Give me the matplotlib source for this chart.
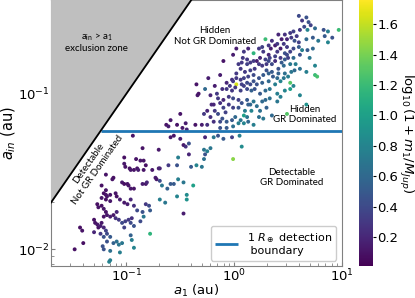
import numpy as np
import matplotlib
matplotlib.use("Agg")
import matplotlib.pyplot as plt

# values (log10 of a_1 and a_in in au, colour value)
log_a1 = [
    -0.94, -0.59, -0.56, -0.50, -0.47, -0.45, -0.42, -0.85, -0.70, -0.52, -0.42, -0.35, -0.40,
    -1.02, -0.91, -0.87, -0.84, -0.82, -0.90, -1.02, -1.01, -0.97, -0.96, -0.93, -0.89, -0.84,
    -0.76, -0.70, -0.69, -0.61, -0.53, -1.12, -1.19, -1.13, -1.04, -1.02, -0.99, -0.98, -0.96,
    -0.93, -0.85, -0.82, -0.81, -0.73, -0.72, -0.69, -0.67, -0.62, -0.59, -0.56, -0.52, -0.47,
    -0.38, -1.23, -1.19, -1.21, -1.19, -1.23, -1.19, -1.18, -1.15, -1.15, -1.10, -1.09, -1.06,
    -1.02, -0.99, -0.96, -0.93, -0.90, -0.85, -0.84, -0.87, -0.82, -0.79, -0.78, -0.69, -0.64,
    -0.53, -0.44, -0.44, -0.47, -1.27, -1.26, -1.23, -1.21, -1.19, -1.21, -1.18, -1.15, -1.12,
    -1.09, -1.10, -1.07, -1.04, -1.01, -0.98, -0.95, -0.96, -0.93, -1.02, -1.30, -1.29, -1.27,
    -1.26, -1.24, -1.23, -1.21, -1.19, -1.18, -1.43, -1.41, -1.30, -1.24, -1.21, -1.18, -1.15,
    -1.12, -1.09, -1.07, -1.04, -1.06, -1.15, -1.22, -1.21, -0.96, -0.95, -0.93, -0.78, -1.16,
    -1.15, -1.40, -1.48,
    -0.35, -0.33, -0.34, -0.50, -0.59, -0.63, -0.61, -0.53, -0.48, -0.45, -0.44, -0.36,
    -0.27, -0.19, -0.15, -0.10, -0.02, 0.05, 0.07, -0.01, -0.28, -0.25, -0.22, -0.27, -0.28, -0.30,
    0.60, 0.67, 0.63, 0.69, 0.71, 0.65, 0.61, 0.68, 0.75, 0.83, 0.87, 0.97,
    0.44, 0.49, 0.29, 0.53, 0.58, 0.56, 0.60, 0.73, 0.78, 0.84, 0.87, 0.91, 0.67,
    0.38, 0.43, 0.46, 0.49, 0.55, 0.60, 0.63, 0.68, 0.73, 0.61, 0.52, 0.47, 0.40, 0.34, 0.32,
    0.27, 0.18, 0.24, 0.21, 0.15, 0.12, 0.08, 0.04, -0.01,
    0.29, 0.33, 0.38, 0.43, 0.47, 0.50, 0.55, 0.57, 0.52, 0.46, 0.41, 0.35, 0.30, 0.26, 0.19,
    0.15, 0.10, 0.06, 0.02, 0.67, 0.75, 0.75, 0.77, 0.70, 0.61, 0.56,
    -0.13, -0.24, -0.18, -0.07, -0.02, 0.02, 0.06, 0.09, 0.13, 0.18, 0.23, 0.27, 0.32, 0.36,
    0.41, 0.46, 0.50, 0.52, 0.43, 0.38, 0.32, 0.26, 0.21, 0.02,
    -0.27, -0.22, -0.16, -0.07, -0.02, 0.01, 0.06, 0.09, 0.12, 0.15, 0.16, 0.19, 0.24, 0.29,
    0.33, 0.40, 0.43, 0.47, 0.52, 0.55, 0.61, 0.67,
    -0.19, -0.13, -0.10, -0.05, -0.01, 0.04, 0.07, 0.12, 0.15, 0.18, 0.21, 0.26, 0.10, 0.09,
    0.16, 0.24, 0.30, 0.35, -0.01, -0.05,
    -0.28, -0.25, -0.30, -0.25, -0.19, -0.15, -0.11, -0.08, -0.07, -0.02, 0.01, 0.04, 0.06,
    0.09, 0.13, 0.18, -0.01, -0.07, -0.13, 0.49, -0.10,
    0.02, 0.09, 0.13, 0.23, 0.26, 0.32, 0.35, 0.40, 0.41, 0.47, 0.52, 0.55, 0.49, 0.44, 0.38,
    0.32, 0.23, 0.18, 0.12, 0.07, 0.30, 0.35, 0.40, 0.47, 0.53, 0.18, 0.12, 0.07, -0.01, -0.04,
    -0.11, -0.15, -0.10, -0.18, -0.22, -0.21, 0.04, 0.13, 0.29, 0.33, 0.40, 0.27, 0.23, 0.12,
    -0.13,
]
log_ain = [
    -1.27, -1.28, -1.27, -1.29, -1.33, -1.34, -1.32, -1.35, -1.36, -1.41, -1.39, -1.46, -1.47,
    -1.41, -1.42, -1.43, -1.43, -1.46, -1.48, -1.45, -1.47, -1.48, -1.49, -1.49, -1.49, -1.49,
    -1.49, -1.48, -1.48, -1.46, -1.46, -1.54, -1.52, -1.55, -1.57, -1.58, -1.58, -1.59, -1.61,
    -1.61, -1.58, -1.58, -1.57, -1.54, -1.55, -1.56, -1.59, -1.61, -1.58, -1.58, -1.55, -1.57,
    -1.59, -1.59, -1.62, -1.64, -1.65, -1.67, -1.68, -1.66, -1.65, -1.69, -1.64, -1.66, -1.68,
    -1.70, -1.71, -1.68, -1.72, -1.75, -1.76, -1.79, -1.82, -1.71, -1.72, -1.75, -1.68, -1.70,
    -1.66, -1.65, -1.68, -1.77, -1.71, -1.73, -1.72, -1.74, -1.76, -1.79, -1.78, -1.79, -1.78,
    -1.76, -1.80, -1.81, -1.83, -1.82, -1.81, -1.80, -1.83, -1.85, -1.86, -1.81, -1.83, -1.84,
    -1.86, -1.85, -1.83, -1.86, -1.88, -1.90, -1.86, -1.88, -1.89, -1.90, -1.92, -1.95, -1.92,
    -1.96, -1.95, -1.97, -1.96, -2.02, -2.01, -1.98, -2.00, -1.91, -1.94, -1.99, -1.90, -2.08,
    -2.07, -1.96, -2.00,
    -0.94, -1.00, -1.01, -1.13, -1.17, -1.20, -1.21, -1.20, -1.22, -1.19, -1.23, -1.20,
    -1.28, -1.28, -1.27, -1.29, -1.28, -1.27, -1.34, -1.42, -1.36, -1.37, -1.35, -1.39, -1.42, -1.47,
    -0.50, -0.51, -0.53, -0.54, -0.56, -0.57, -0.59, -0.59, -0.58, -0.59, -0.60, -0.59,
    -0.65, -0.65, -0.65, -0.64, -0.63, -0.66, -0.67, -0.64, -0.66, -0.63, -0.67, -0.64, -0.65,
    -0.69, -0.71, -0.68, -0.70, -0.71, -0.70, -0.72, -0.72, -0.71, -0.75, -0.73, -0.74, -0.73,
    -0.71, -0.75, -0.73, -0.74, -0.77, -0.79, -0.80, -0.78, -0.77, -0.81, -0.75,
    -0.78, -0.77, -0.79, -0.77, -0.78, -0.77, -0.77, -0.81, -0.81, -0.82, -0.84, -0.81, -0.81,
    -0.82, -0.84, -0.85, -0.86, -0.84, -0.87, -0.86, -0.82, -0.88, -0.89, -0.77, -0.84, -0.85,
    -0.88, -0.90, -0.95, -0.93, -0.91, -0.90, -0.91, -0.90, -0.89, -0.88, -0.90, -0.88, -0.87,
    -0.89, -0.87, -0.90, -0.89, -0.93, -0.92, -0.94, -0.92, -0.93, -0.94, -0.94,
    -0.97, -1.01, -1.00, -0.97, -0.98, -0.96, -0.98, -0.95, -0.97, -0.94, -0.98, -0.97, -1.00,
    -0.98, -0.97, -1.00, -1.02, -0.98, -0.97, -0.95, -1.01, -1.07,
    -1.07, -1.06, -1.04, -1.02, -1.03, -1.04, -1.06, -1.04, -1.07, -1.05, -1.08, -1.05, -1.11,
    -1.14, -1.11, -1.11, -1.09, -1.14, -1.09, -1.07,
    -1.13, -1.11, -1.20, -1.20, -1.18, -1.13, -1.16, -1.12, -1.18, -1.17, -1.15, -1.19, -1.17,
    -1.19, -1.18, -1.20, -1.21, -1.22, -1.22, -1.13, -0.79,
    -0.71, -0.73, -0.71, -0.71, -0.70, -0.69, -0.66, -0.68, -0.62, -0.62, -0.61, -0.60, -0.75,
    -0.80, -0.76, -0.79, -0.81, -0.79, -0.81, -0.80, -0.85, -0.86, -0.90, -0.87, -0.86, -0.92,
    -0.93, -0.94, -0.92, -0.95, -0.97, -1.03, -1.09, -1.11, -1.15, -1.07, -1.09, -1.07, -1.04,
    -1.03, -1.05, -1.16, -1.15, -1.15, -1.18,
]
mass_col = [
    0.10, 0.12, 0.10, 0.15, 0.12, 0.25, 0.45, 0.10, 0.12, 0.75, 0.20, 0.80, 0.50,
    0.08, 0.10, 0.12, 0.10, 0.08, 0.10, 0.12, 0.10, 0.08, 0.12, 0.10, 0.15, 0.10,
    0.12, 0.15, 0.18, 0.30, 0.45, 0.08, 0.10, 0.10, 0.12, 0.08, 0.10, 0.10, 0.12,
    0.10, 0.15, 0.12, 0.20, 0.15, 0.12, 0.40, 0.70, 0.55, 0.50, 0.50, 0.75, 0.70,
    1.00, 0.08, 0.10, 0.08, 0.10, 0.12, 0.08, 0.10, 0.10, 0.12, 0.10, 0.08, 0.15,
    0.12, 0.15, 0.20, 0.25, 0.40, 0.45, 0.70, 0.40, 0.30, 0.40, 0.50, 0.75, 0.70,
    0.80, 0.85, 0.90, 0.15, 0.08, 0.10, 0.08, 0.12, 0.10, 0.10, 0.12, 0.15, 0.12,
    0.20, 0.25, 0.30, 0.40, 0.35, 0.30, 0.25, 0.40, 0.45, 0.35, 0.08, 0.10, 0.12,
    0.10, 0.15, 0.12, 0.20, 0.35, 0.40, 0.08, 0.10, 0.20, 0.30, 0.45, 0.45, 0.50,
    0.55, 0.65, 0.70, 0.70, 0.75, 0.65, 0.45, 0.45, 0.55, 0.75, 0.80, 1.15, 0.80,
    0.75, 0.08, 0.08,
    0.10, 0.10, 0.12, 0.10, 0.12, 0.10, 0.15, 0.10, 0.12, 0.15, 0.20, 0.10,
    0.20, 0.70, 0.45, 0.50, 0.35, 0.75, 0.85, 1.45, 0.70, 0.75, 0.70, 0.45, 0.65, 0.70,
    0.40, 0.45, 0.30, 0.45, 0.35, 0.40, 0.30, 0.80, 0.60, 0.45, 0.75, 1.20,
    0.15, 0.20, 1.20, 0.30, 0.30, 0.45, 0.35, 0.50, 0.70, 0.50, 0.80, 0.45, 0.60,
    0.15, 0.15, 0.30, 0.30, 0.40, 0.50, 0.75, 0.50, 0.60, 0.45, 0.35, 0.45, 0.30, 0.15, 0.20,
    0.30, 1.15, 0.20, 0.15, 0.30, 0.30, 0.30, 0.30, 0.15,
    0.35, 0.35, 0.25, 0.30, 0.50, 0.35, 0.60, 0.75, 0.70, 0.60, 0.45, 0.40, 0.30, 0.30, 0.30,
    0.35, 0.30, 0.30, 0.30, 0.75, 0.80, 1.20, 1.25, 0.70, 0.65, 0.60,
    0.15, 0.15, 0.15, 0.20, 0.25, 0.30, 0.30, 0.35, 0.35, 0.40, 0.45, 0.50, 0.55, 0.50,
    0.55, 0.70, 0.75, 1.30, 0.80, 0.75, 0.60, 0.55, 0.45, 1.65,
    0.60, 0.20, 0.30, 0.30, 0.30, 0.30, 0.35, 0.35, 0.40, 0.40, 0.55, 0.45, 0.50, 0.60,
    0.70, 0.75, 0.75, 0.80, 1.00, 0.80, 0.80, 0.90,
    0.20, 0.25, 0.20, 0.30, 0.40, 0.35, 0.45, 0.50, 0.60, 0.70, 0.65, 0.60, 0.75, 1.00,
    0.80, 0.65, 0.55, 0.60, 0.35, 0.30,
    0.30, 0.20, 0.15, 0.25, 0.25, 0.40, 0.45, 0.35, 0.50, 0.50, 0.60, 0.75, 0.70,
    0.80, 0.60, 0.75, 0.65, 0.50, 0.45, 1.30, 0.10,
    0.15, 0.30, 0.20, 0.30, 0.35, 0.30, 0.25, 0.30, 0.20, 0.25, 0.30, 0.35, 0.40, 0.50, 0.35,
    0.40, 0.30, 0.30, 0.35, 0.30, 0.45, 0.50, 0.60, 0.65, 0.70, 0.45, 0.40, 0.35, 0.30, 0.30,
    0.25, 0.30, 0.35, 0.30, 0.25, 0.20, 0.45, 0.55, 0.60, 0.65, 0.70, 0.70, 0.65, 0.70,
    0.40,
]

a1_range = [0.02, 10]
ain_range = [0.0078, 0.4]
detect_ain = 0.058   # 1 R_earth detection boundary

a1 = 10 ** np.array(log_a1)
ain = 10 ** np.array(log_ain)

fig = plt.figure(figsize=(4.15, 2.98), dpi=100)
ax = fig.add_axes([0.123, 0.107, 0.701, 0.893])
cax = fig.add_axes([0.866, 0.108, 0.033, 0.892])

sc = ax.scatter(a1, ain, c=mass_col, cmap='viridis', vmin=0.01, vmax=1.76,
                s=8, linewidths=0, zorder=2)

ax.hlines(detect_ain, detect_ain, a1_range[1], color='tab:blue', lw=2,
          label='1 $R_\\oplus$ detection\n boundary', zorder=3)

xx = np.array(a1_range)
ax.fill_between(xx, xx, ain_range[1] * 2, color='#bfbfbf', zorder=4)
ax.plot(xx, xx, color='k', lw=1.3, zorder=5)

ax.set_xscale('log')
ax.set_yscale('log')
ax.set_xlim(a1_range)
ax.set_ylim(ain_range)
ax.set_xlabel('$a_1$ (au)', fontsize=9.5, labelpad=-1)
ax.set_ylabel('$a_{in}$ (au)', fontsize=10.5, labelpad=0)
ax.tick_params(which='both', direction='in', labelsize=9.5, colors='0.5',
               labelcolor='k', pad=1)
ax.tick_params(which='major', length=3)
ax.tick_params(which='minor', length=2)
for sp in ax.spines.values():
    sp.set_color('0.5')

tfont = dict(family=['Lato', 'DejaVu Sans'], fontsize=7, ha='center', va='center', zorder=6)
ax.text(0.053, 0.215, 'a$_\\mathregular{in}$ > a$_\\mathregular{1}$\nexclusion zone', **tfont)
ax.text(0.667, 0.235, 'Hidden\nNot GR Dominated', **tfont)
ax.text(4.54, 0.0733, 'Hidden\nGR Dominated', **tfont)
ax.text(3.44, 0.029, 'Detectable\nGR Dominated', **tfont)
ax.text(0.049, 0.034, 'Detectable\nNot GR Dominated', rotation=55,
        rotation_mode='anchor', **tfont)

leg = ax.legend(loc='lower right', fontsize=8, handlelength=2.0,
                borderaxespad=0.5, framealpha=1)

cb = fig.colorbar(sc, cax=cax)
cb.outline.set_visible(False)
cb.ax.tick_params(labelsize=9.5, length=2, pad=1)
cb.set_label('$\\log_{10}(1 + m_1/M_{Jup})$', rotation=270, fontsize=9.5, labelpad=12)

fig.savefig('out.png', dpi=100)
